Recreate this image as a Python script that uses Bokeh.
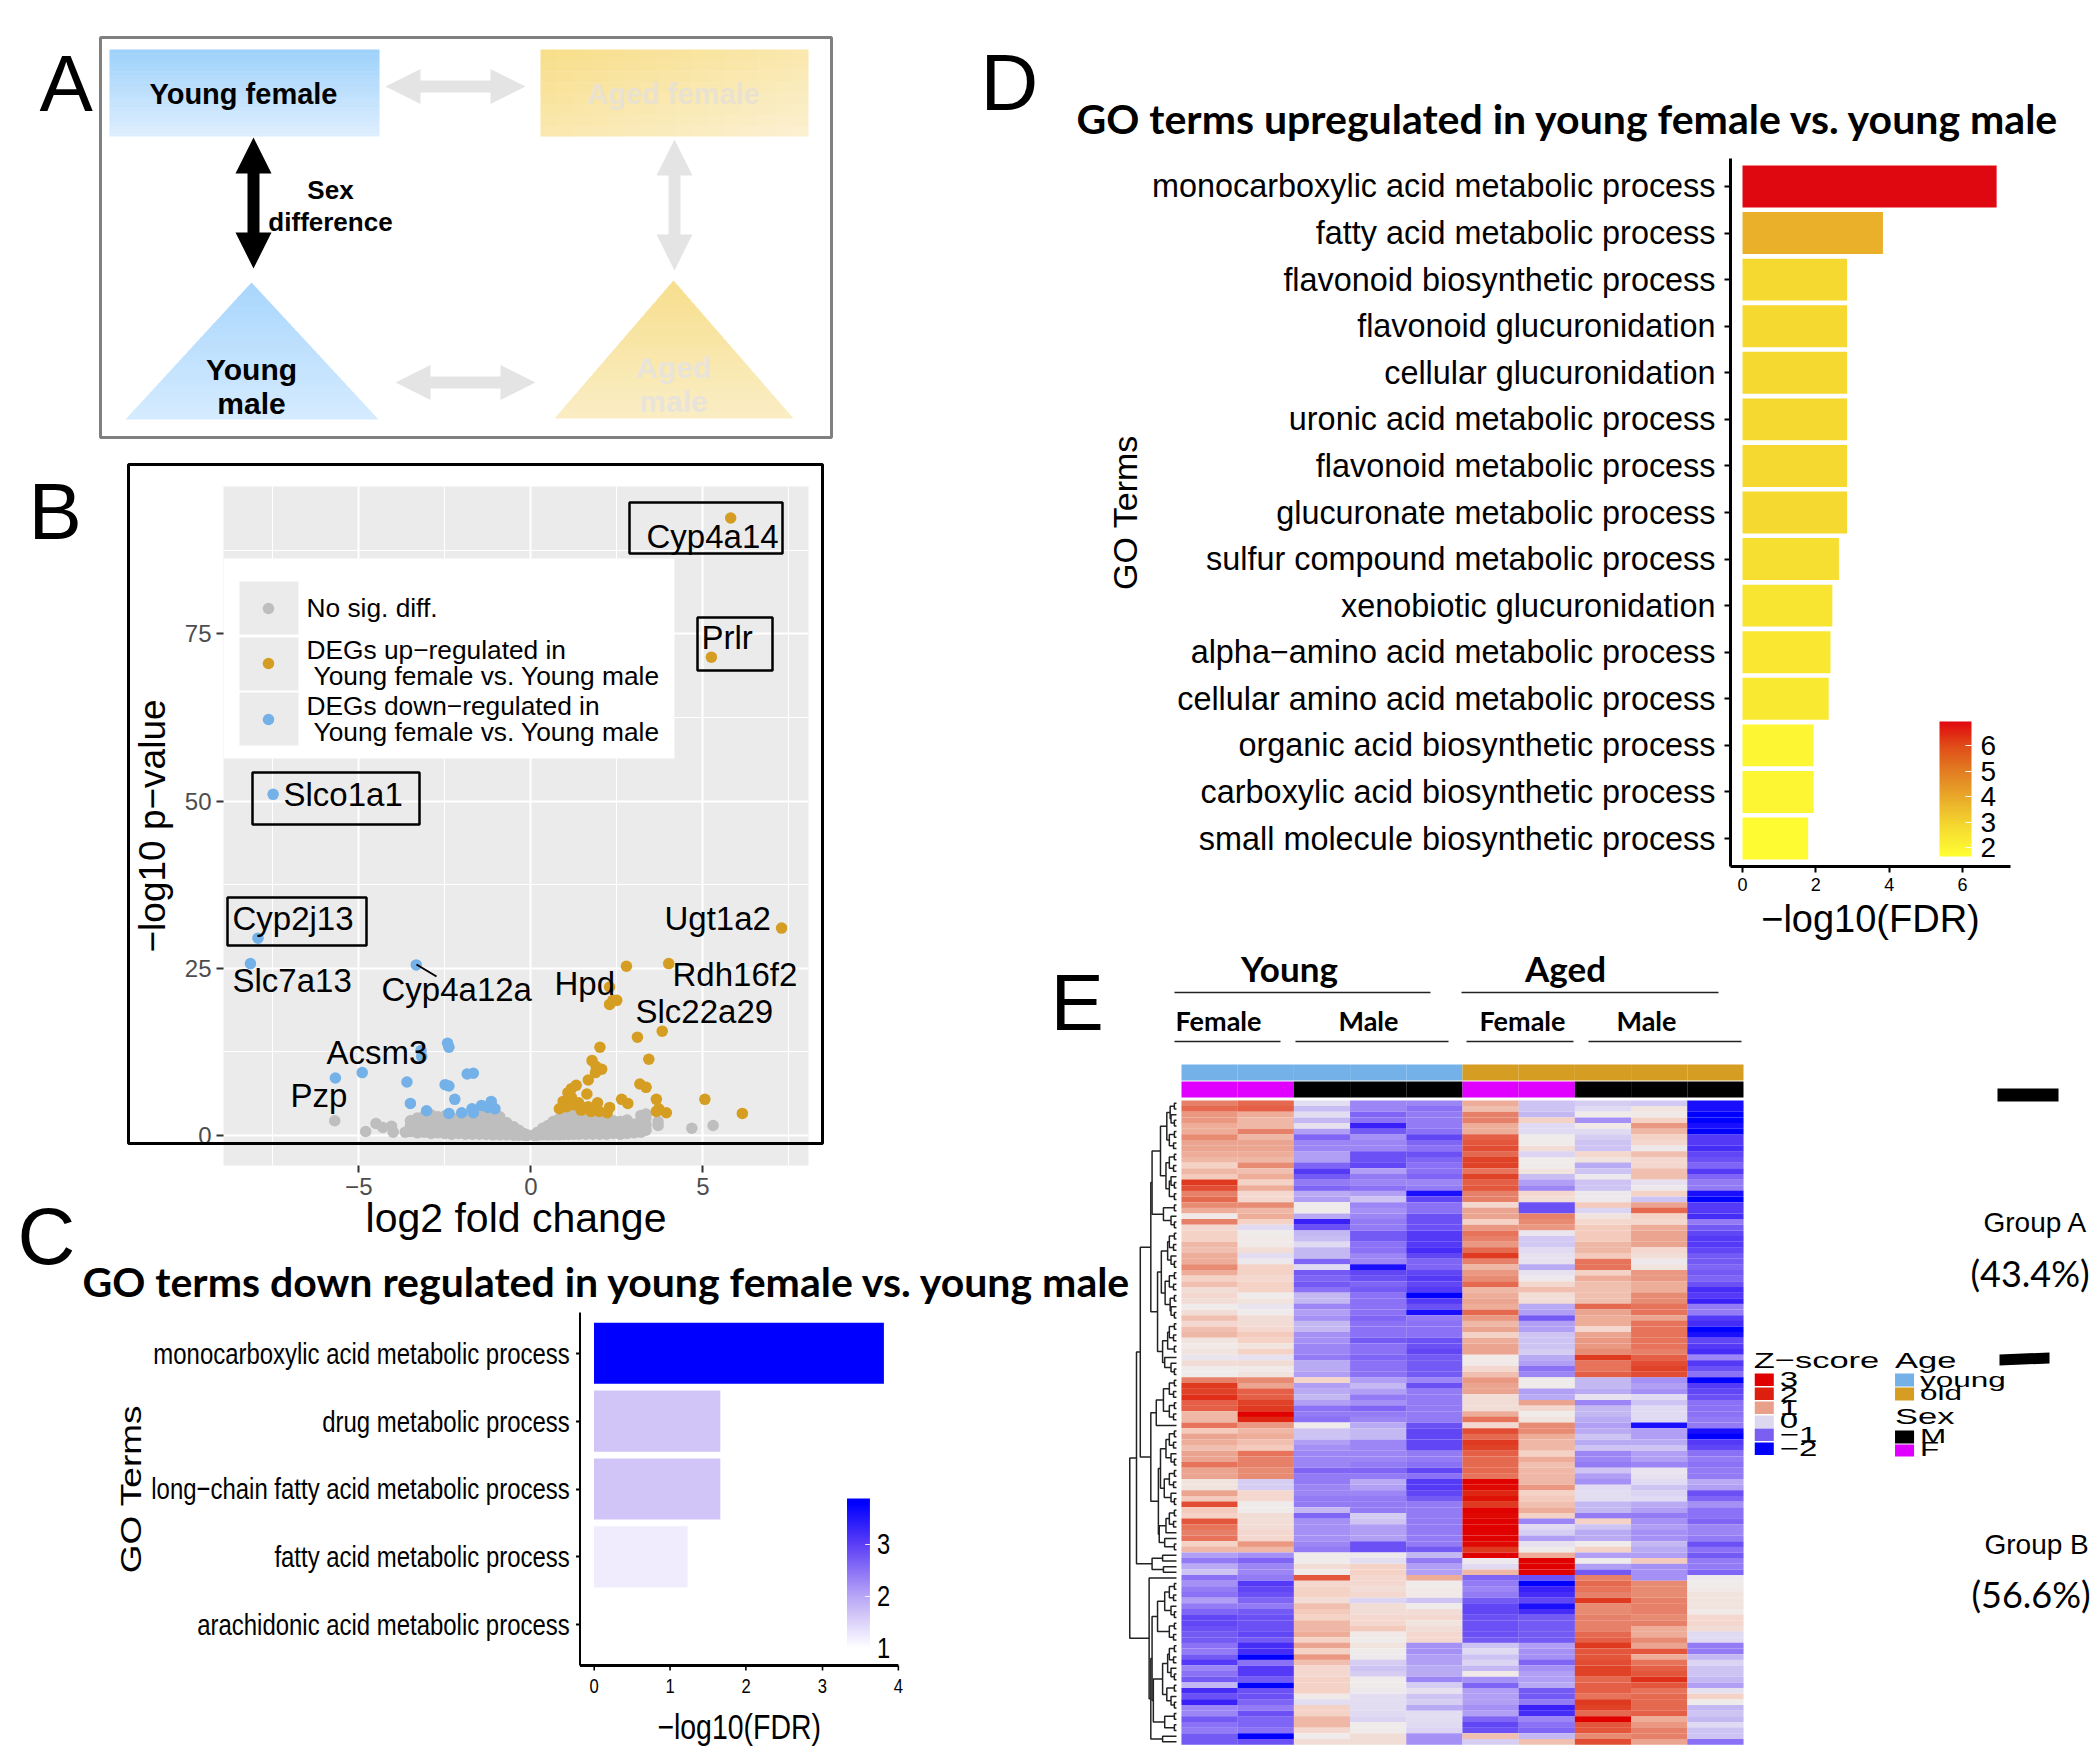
from bokeh.embed import file_html
from bokeh.resources import INLINE
from bokeh.plotting import figure
from bokeh.models import (Range1d, FactorRange, FixedTicker, LinearColorMapper, ColorBar, Column, ColumnDataSource)
from bokeh.core.properties import value
from bokeh.transform import transform

# ---------------- data -----------------
up_terms = ["monocarboxylic acid metabolic process", "fatty acid metabolic process", "flavonoid biosynthetic process",
            "flavonoid glucuronidation", "cellular glucuronidation", "uronic acid metabolic process",
            "flavonoid metabolic process", "glucuronate metabolic process", "sulfur compound metabolic process",
            "xenobiotic glucuronidation", "alpha\u2212amino acid metabolic process", "cellular amino acid metabolic process",
            "organic acid biosynthetic process", "carboxylic acid biosynthetic process", "small molecule biosynthetic process"]
up_values = [6.93, 3.83, 2.85, 2.85, 2.85, 2.85, 2.85, 2.85, 2.63, 2.45, 2.4, 2.35, 1.94, 1.94, 1.79]

down_terms = ["monocarboxylic acid metabolic process", "drug metabolic process", "long\u2212chain fatty acid metabolic process",
              "fatty acid metabolic process", "arachidonic acid metabolic process"]
down_values = [3.81, 1.66, 1.66, 1.23, 1.0]

up_x = [5.81, 5.25, 7.29, 4.01, 2.78, 2.29, 2.5, 2.39, 2.29, 3.82, 3.1, 2.01, 3.43, 1.78, 1.9, 2.06, 1.88, 1.67, 3.17, 3.35,
        1.32, 1.18, 1.08, 1.63, 2.64, 2.82, 3.65, 5.06, 6.15, 3.72, 3.65, 3.94, 2.29, 1.94, 1.99, 2.22, 0.94, 1.18, 1.39,
        1.67, 0.83, 1.04, 1.46, 1.75, 1.25, 1.5]
up_y = [92.3, 71.5, 31.0, 25.7, 25.3, 22.2, 20.2, 20.2, 19.6, 15.6, 14.7, 13.2, 11.4, 11.2, 10.3, 9.9, 9.4, 8.3, 7.7, 7.2,
        7.5, 7.0, 6.4, 6.2, 5.4, 4.8, 5.4, 5.4, 3.3, 4.0, 3.6, 3.4, 4.2, 4.9, 3.6, 3.4, 5.1, 5.7, 4.9,
        4.3, 4.0, 4.3, 3.8, 3.6, 4.6, 4.2]
down_x = [-7.49, -7.93, -8.15, -3.33, -2.42, -2.38, -3.19, -3.17, -5.68, -4.9, -3.6, -1.85, -1.67, -2.49, -2.38, -2.21, -3.5,
          -3.03, -2.38, -2.01, -1.71, -1.43, -1.15, -1.04, -1.67, -1.25]
down_y = [51.0, 29.5, 25.7, 25.5, 13.8, 13.2, 12.7, 11.8, 8.6, 9.4, 8.0, 9.2, 9.3, 7.6, 7.4, 5.4, 4.8,
          3.7, 3.3, 3.4, 4.0, 4.5, 5.1, 4.0, 3.4, 4.2]
grey_x_levels = [-3.5, -3.3, -3.1, -2.9, -2.7, -2.5, -2.3, -2.1, -1.9, -1.7, -1.5, -1.3, -1.1, -0.9, -0.7, -0.5, -0.35, -0.2, -0.1,
                 0.1, 0.2, 0.35, 0.5, 0.65, 0.8, 0.95, 1.1, 1.25, 1.4, 1.6, 1.8, 2.0, 2.2, 2.4, 2.6, 2.8, 3.0, 3.2, 3.35, 3.7]
grey_y_levels = [[0.6, 1.4, 2.2], [0.4, 1.1, 1.9, 2.6], [0.5, 1.3, 2.1, 2.9], [0.3, 1.0, 1.7, 2.5, 3.1], [0.4, 1.2, 2.0, 2.8],
                 [0.3, 0.9, 1.6, 2.4, 2.9], [0.2, 0.8, 1.4, 2.1, 2.7], [0.3, 1.0, 1.8, 2.5], [0.2, 0.7, 1.3, 2.0, 2.7],
                 [0.2, 0.8, 1.5, 2.2, 3.0], [0.2, 0.6, 1.2, 1.9, 2.6, 3.2], [0.15, 0.6, 1.1, 1.8, 2.5, 3.2],
                 [0.1, 0.5, 1.0, 1.6, 2.3, 3.0], [0.1, 0.4, 0.9, 1.5, 2.2, 2.8], [0.1, 0.4, 0.8, 1.3, 1.9],
                 [0.05, 0.3, 0.6, 1.0, 1.3], [0.05, 0.3, 0.6, 0.8], [0.03, 0.15, 0.3], [0.02, 0.08],
                 [0.02, 0.1], [0.05, 0.25, 0.5], [0.1, 0.4, 0.8, 1.1], [0.1, 0.5, 1.0, 1.5], [0.1, 0.5, 1.1, 1.7, 2.1],
                 [0.1, 0.6, 1.2, 1.8, 2.4], [0.15, 0.7, 1.4, 2.1, 2.8], [0.15, 0.7, 1.4, 2.2, 3.0], [0.2, 0.8, 1.5, 2.3, 3.3],
                 [0.2, 0.8, 1.6, 2.4, 3.1], [0.2, 0.8, 1.5, 2.2, 2.9], [0.2, 0.7, 1.3, 2.0, 2.7], [0.2, 0.7, 1.3, 1.9, 2.5],
                 [0.2, 0.6, 1.2, 1.9], [0.3, 0.9, 1.5, 2.2], [0.2, 0.8, 1.4, 2.1], [0.3, 0.9, 1.5, 2.3], [0.4, 1.1, 1.7],
                 [0.5, 1.2, 2.2, 3.0], [0.8, 1.6, 2.6, 3.2], [1.5, 2.1]]
grey_out_x = [-5.7, -4.8, -4.5, -4.3, -4.05, -4.0, -3.65, 4.68, 5.3, 3.05]
grey_out_y = [2.2, 0.6, 1.8, 1.2, 1.4, 0.5, 0.5, 1.1, 1.5, 1.2]

gene_names = ["Cyp4a14", "Prlr", "Slco1a1", "Cyp2j13", "Ugt1a2", "Slc7a13", "Rdh16f2", "Cyp4a12a", "Hpd", "Slc22a29", "Acsm3", "Pzp"]

age_groups = ["young"] * 5 + ["old"] * 5
sex_groups = ["F", "F", "M", "M", "M", "F", "F", "M", "M", "M"]

heat_rows = [
 [1.3,1.5,-.15,-.9,-.9,.9,-.4,-.3,-.35,-1.9],[1.5,1.6,-.45,-.9,-1.1,.7,-.4,-.2,.2,-1.9],[1.1,.9,-.15,-1.2,-1.0,1.3,-.5,.05,.1,-2],
 [1.1,.8,-.5,-1.1,-1,1.3,.5,-.8,.5,-2],[.9,.8,-.1,-1.8,-1,.9,-.2,.1,1.1,-1.9],[.9,1.3,-.7,-1.3,-1.1,.9,-.2,-.2,.8,-2],
 [1.2,.8,-1.2,-.8,-1.5,1.6,.05,-.3,.5,-1.6],[1.0,1.0,-.9,-.9,-1.2,1.7,.05,-.4,.4,-1.6],[1.0,1.0,-.9,-.9,-1.1,1.8,.3,-.4,.0,-1.7],
 [.9,.9,-.7,-1.4,-1.4,1.5,-.25,.4,.7,-1.5],[.8,.8,-.7,-1.4,-1.2,1.9,.05,.2,.4,-1.4],[.5,1.2,-1.2,-1.5,-1.1,1.9,.05,-.6,.4,-1.2],
 [.8,.7,-1.6,-.7,-1.1,1.4,.2,-.4,.7,-1.6],[.6,.9,-1.3,-1,-1.2,1.9,-.45,0,.7,-1.2],[2.0,.5,-1.0,-.9,-.9,1.6,-.7,-.4,-.1,-1.0],
 [1.8,.9,-1.2,-1.1,-1.0,1.7,-.9,-.4,.0,-1.0],[1.3,.4,-.6,-.7,-1.9,1.3,.4,0,.5,-1.9],[1.5,.4,-.7,-.4,-1.5,1.3,.3,0,-.4,-2],
 [1.2,1.2,.05,-.9,-1.1,.4,-1.4,.6,1,-1.6],[.9,.8,.05,-.8,-1.1,1.0,-1.4,-.25,1.5,-1.6],[.1,.9,-.6,-.9,-1.4,1.0,1.3,.2,.5,-1.7],
 [1.3,.5,-1.8,-1.0,-1.4,.5,1.2,.4,.4,-1.0],[.4,-.2,-1.4,-1.0,-1.4,1.1,1.1,.6,.9,-1.3],[.5,.05,-.5,-1.3,-1.6,1.4,-.05,.6,1.0,-1.5],
 [.5,.1,-.45,-1.3,-1.6,1.3,-.35,.6,1.0,-1.6],[.8,.1,-.2,-1.1,-1.6,1.1,-.35,.8,1.0,-1.6],[.7,.3,-.5,-1.1,-1.7,1.5,-.2,.8,.4,-1.5],
 [.9,-.15,-.5,-.9,-1.5,2.0,-.1,.6,.3,-1.3],[.9,.0,-1.2,-.9,-1.2,1.3,-.1,1.4,.0,-1.3],[1.2,.5,-.2,-1.9,-1.2,.8,-.6,1.4,.2,-1.2],
 [.9,.5,-1.3,-1.5,-1.5,1.1,-.1,.5,1.1,-1.3],[.5,.4,-1.2,-1.4,-1.6,1.2,.0,.9,1.1,-1.2],[.7,.5,-1.3,-1.2,-1.5,1.5,.4,.7,.9,-1.4],
 [.3,.5,-1.1,-1.3,-1.6,.8,.7,.7,.9,-1.7],[.4,.05,-.5,-1.1,-2,.9,.3,.7,1.2,-1.6],[.3,.2,-.5,-1.1,-1.6,1.0,.3,.7,1.2,-1.8],
 [.05,-.05,-.9,-1.1,-1.4,.9,-.6,1.5,1.4,-1.0],[.3,.05,-.7,-1.1,-1.9,1.5,-.7,1.0,1.4,-1.0],[.7,.3,-.8,-1.2,-1.0,1.1,-1.3,.9,1.0,-1.6],
 [.4,.3,-.5,-1.1,-1.1,.8,-.7,.9,1.4,-1.7],[.7,.4,-.5,-1.1,-1.1,1.0,-.7,.4,1.4,-2],[.8,.6,-.8,-1.1,-1.1,.5,-.4,1.0,1.4,-1.9],
 [.2,.5,-.8,-1.3,-1.4,.9,-.4,1.1,1.4,-1.5],[.1,.2,-.9,-1.1,-1.4,1.0,-.4,1.1,1.4,-1.6],[.2,.5,-.9,-1.1,-1.5,1.0,-.3,1.2,1.3,-1.7],
 [-.05,-.1,-1.0,-1.2,-1.3,.1,-.6,2.0,1.6,-.9],[.3,.3,-.6,-1.1,-1.3,.1,-.7,1.4,1.8,-1.6],[.05,.1,-.6,-1.1,-1.3,.4,-1.1,1.4,1.9,-1.4],
 [.05,.2,-.7,-1.1,-1.3,.7,-.9,1.6,1.8,-1.1],[1.3,1.2,.45,-.7,-.9,1.1,.05,-.5,-.8,-2],[2.0,1.0,-.7,-.5,-1.4,1.0,.05,-.5,-.7,-1.6],
 [1.9,1.6,-.6,-.7,-1.0,1.0,-.7,-.6,-.8,-1.5],[2.1,1.6,-.5,-1.0,-1.0,.3,-.6,-.1,-.2,-1.4],[1.6,1.9,-.7,-.8,-1,.3,1.0,-.9,-.4,-1.1],
 [1.6,2.0,-1.1,-1.2,-1,.3,.4,-.5,-.2,-1.1],[.8,2.6,-1.0,-1.0,-1,.9,.05,-.5,-.2,-1.1],[.8,2.2,-1.1,-.9,-1.0,1.4,.2,-.6,-.2,-1.0],
 [1.4,1.1,.05,-.6,-1.4,.4,1.2,-.7,-1.9,-1.0],[.6,.8,-.4,-.5,-1.5,1.8,1.2,-.6,-.7,-1.9],[1.0,.9,-.4,-.5,-1.5,1.5,.9,-.4,-.7,-2],
 [.9,.7,-.7,-.9,-1.5,2.0,.8,-.6,-.6,-1.6],[.7,.6,-.8,-.9,-1.5,1.9,.8,-.4,-.4,-1.5],[1.0,1.4,-.9,-.9,-1.0,1.6,.5,-.9,-.7,-1.1],
 [1.0,1.3,-.9,-.9,-1.0,1.5,.9,-.9,-.7,-1.0],[1.4,1.3,-.9,-1.0,-1.1,1.5,.7,-1.0,-.9,-1.1],[1.0,1.2,-1.2,-1.2,-1.5,1.5,.8,-.4,-.05,-1.0],
 [1.0,1.2,-1.0,-1.0,-1.1,1.4,.8,-.7,-.1,-1.0],[.2,-.3,-1.0,-.6,-1.6,2.6,.8,-.8,-.2,-.6],[.2,-.3,-.9,-.7,-1.6,2.5,1.1,-.2,-.4,-.7],
 [1.0,.4,-.9,-.9,-1.5,2.2,.5,-.15,-.25,-1.4],[.6,.4,-1.0,-1.0,-1.3,2.4,.6,-.15,-.2,-1.2],[1.8,.05,-1.0,-1.0,-1.0,2.0,.7,-.5,-.6,-.8],
 [.6,.05,-.5,-1.0,-1.0,2.6,.9,-.5,-.7,-1.1],[.5,.3,-1.2,-.3,-1.0,2.5,.5,-1.0,-1.0,-1.1],[1.7,.3,-.8,-.4,-1.0,2.6,-.9,.5,-.8,-1.2],
 [1.4,.3,-.8,-.7,-1,2.6,-.2,-.4,-.7,-.9],[1.3,.4,-.8,-.7,-1.0,2.6,-.3,-.6,-.8,-.9],[1.4,.4,-.8,-.7,-1.0,2.6,-.7,-.6,-.8,-1.0],
 [.5,1.1,-.9,-1.4,-1.0,2.5,-.1,.05,-.5,-1.4],[.8,.8,-1.0,-1.4,-1.3,2.0,.05,.5,-.6,-1.1],[-.7,-.8,.05,.0,-.5,2.6,.9,-.7,-.7,-1.3],
 [-1.0,-1.2,.05,-.15,-1.0,.0,2.6,.05,.6,-1.0],[-.6,-.9,.3,.5,-.7,-.2,2.6,-.7,-.8,-1.0],[-.4,-.9,.1,.5,-.7,.8,2.6,-1.3,-.8,-1.2],
 [-1.1,-1.0,1.7,.4,.9,-1.2,-1.4,1.3,-.8,.0],[-.8,-1.6,.4,.4,.05,-1.0,-2,1.5,1.2,.05],[-1.0,-1.5,.5,.3,.1,-.9,-1.8,1.4,1.2,.1],
 [-1.1,-1.4,.5,.4,.1,-1.0,-1.7,1.3,1.2,.2],[-.7,-1.2,.3,-.25,-.4,-1.3,-1.5,2.0,1.3,.2],[-1.0,-1.0,.7,.3,.05,-1.5,-1.9,1.2,1.3,.2],
 [-1.2,-1.3,.6,.3,.3,-1.5,-1.7,1.2,1.3,.1],[-1.5,-1.4,.5,.4,.4,-1.4,-1.3,1.3,1.2,.4],[-1.5,-1.4,.8,.4,.2,-1.4,-1.3,1.3,1.3,.4],
 [-1.4,-1.4,.8,.6,.3,-1.4,-1.3,1.3,.9,.3],[-1.3,-1.5,.9,.1,.4,-1.4,-1.3,1.5,.9,-.2],[-1.3,-1.3,.5,.05,.4,-1.3,-1.3,1.6,1.2,-.2],
 [-1.1,-1.7,1.0,.2,-.8,-.4,-.7,2.0,1.0,-1.0],[-1.0,-1.7,.5,.05,-.8,-.2,-.8,1.7,1.7,-1.0],[-1.3,-2,1.1,.0,-.7,-.4,-.8,1.7,.9,-.5],
 [-1.6,-1.1,.7,-.3,-.7,-.25,-1.2,1.8,1.4,-.25],[-.9,-1.6,.4,-.4,-.6,-.5,-.8,1.9,1.6,-.4],[-1.1,-1.6,.4,-.3,-.6,.1,-.7,1.9,1.7,-.4],
 [-1.3,-1.3,.5,.05,-.9,-.8,-.7,1.5,2.1,-.5],[-.5,-2,.5,.05,-.3,-1.2,-.6,1.6,1.7,-.7],[-1.7,-1.4,.5,.0,-.1,-.7,-1.3,1.6,1.4,-.1],
 [-1.4,-1.4,.1,-.15,-.4,-.7,-1.3,1.4,1.5,.5],[-1.8,-1.2,-.15,-.15,-.3,-.7,-1.0,2.0,1.5,.05],[-.9,-1.0,.5,-.15,-.6,-.8,-1.8,1.9,1.5,-.5],
 [-.9,-1.4,.5,-.2,-.15,-.7,-1.7,1.5,1.6,-.4],[-1.3,-1.2,.8,-.25,-.15,-1.2,-.9,2.6,.9,-.5],[-1.1,-1.2,.8,.05,-.2,-1.5,-1.1,1.7,1.1,-.2],
 [-1.0,-1.1,.4,.05,-.25,-1.4,-1.2,1.7,1.3,-.4],[-1.3,-2,.05,.3,-.8,.7,-.5,1.2,1.3,-.4],[-1.3,-1.4,.3,.3,-.8,-.3,.7,1.8,1.0,-1.1],
]

# dendrogram: each node is [merge position, child, child]; 0 is a leaf
P = [128, 0, 0]
T3 = [120, 0, P]
Q = [116, P, [126, 0, 0]]
dendrogram = [22,
    [38,
        [47,
            [72,
                [75, [95, [110, [118, P, T3], Q], [108, Q, [116, T3, P]]], [102, P, T3]],
                [88, [97, [112, Q, T3], [106, Q, [118, P, T3]]], [100, [112, Q, P], [105, 0, T3]]]],
            [72,
                [85, [102, Q, Q], 0],
                [90, [95, [108, Q, T3], [104, Q, T3]], [92, [108, Q, 0], [105, 0, P]]]]],
        [75, [100, 0, 0], [102, 0, 0]]],
    [68, 0, [72, [75, [88, [105, Q, T3], Q], [78, [100, [112, Q, T3], [110, P, T3]], [105, P, P]]], [100, 0, 0]]]]

# ---------------- helpers -----------------
LIB = "Liberation Sans"
BOLD_T = "Lato"
BASE = 0.36  # text glyphs sit this fraction of their size below the requested baseline

def hexrgb(c):
    return tuple(int(c[i:i + 2], 16) for i in (1, 3, 5))

def ramp(stops, n=256):
    out = []
    for i in range(n):
        f = i / (n - 1)
        for (a, ca), (b, cb) in zip(stops, stops[1:]):
            if a <= f <= b:
                t = (f - a) / (b - a) if b > a else 0
                ra, rb = hexrgb(ca), hexrgb(cb)
                out.append("#%02x%02x%02x" % tuple(round(u + (v - u) * t) for u, v in zip(ra, rb)))
                break
    return out

def panel(l, t, r, b, x_range, y_range, ml=20, mr=20, mt=20, mb=20, sx=1.0):
    styles = {"position": "absolute", "left": f"{l - ml * sx}px", "top": f"{t - mt}px"}
    total = round((r - l) / sx) + ml + mr
    if sx != 1.0:
        # Bokeh measures the transformed box, so the declared width is divided by the scale once more
        styles["transform"] = f"scaleX({sx})"
        styles["transform-origin"] = "0 0"
        total = round(total / sx)
    return figure(width=total, height=b - t + mt + mb, x_range=x_range, y_range=y_range,
                  min_border_left=ml, min_border_right=mr, min_border_top=mt, min_border_bottom=mb,
                  toolbar_location=None, output_backend="svg", background_fill_alpha=0, border_fill_alpha=0,
                  outline_line_color=None, frame_align=False, styles=styles)

def txt(p, x, y, s, size, font=LIB, style="normal", color="black", align="left"):
    p.text(x=[x], y=[y - BASE * size], text=[s], text_font=value(font), text_font_size=f"{size}px", text_font_style=style,
           text_color=color, text_align=align, text_baseline="alphabetic")

figs = []

# ---------------- panel B volcano -----------------
vx = lambda px: (px - 530.3) / 34.4
vy = lambda py: (1135 - py) / 6.69
def vtxt(px, py, s, size):
    b.text(x=[vx(px)], y=[vy(py - BASE * size)], text=[s], text_font=value(LIB), text_font_size=f"{size}px",
           text_color="black", text_baseline="alphabetic")

b = panel(223, 486, 808, 1165, Range1d(vx(223), vx(808)), Range1d(vy(1165), vy(486)), ml=110, mr=10, mt=10, mb=90)
b.background_fill_color = "#EBEBEB"
b.background_fill_alpha = 1
xt = FixedTicker(ticks=[-5, 0, 5], minor_ticks=[-7.5, -2.5, 2.5, 7.5])
yt = FixedTicker(ticks=[0, 25, 50, 75], minor_ticks=[12.5, 37.5, 62.5, 87.5])
b.xaxis.ticker = xt
b.yaxis.ticker = yt
b.xgrid.ticker = xt
b.ygrid.ticker = yt
for g in (b.xgrid, b.ygrid):
    g.grid_line_color = "white"
    g.grid_line_width = 2
    g.minor_grid_line_color = "white"
    g.minor_grid_line_width = 1
for ax in (b.xaxis, b.yaxis):
    ax.axis_line_color = None
    ax.minor_tick_line_color = None
    ax.major_tick_line_color = "#333333"
    ax.major_tick_line_width = 2
    ax.major_tick_out = 7
    ax.major_tick_in = 0
    ax.major_label_text_font = LIB
    ax.major_label_text_font_size = "24px"
    ax.major_label_text_color = "#4D4D4D"
    ax.major_label_standoff = 5
    ax.axis_label_text_font = LIB
    ax.axis_label_text_font_style = "normal"
    ax.axis_label_text_color = "black"
b.xaxis.axis_label = "log2 fold change"
b.xaxis.axis_label_text_font_size = "41px"
b.xaxis.axis_label_standoff = -3
b.yaxis.axis_label = "\u2212log10 p\u2212value"
b.yaxis.axis_label_text_font_size = "37px"
b.yaxis.axis_label_standoff = 9

grey_x = [x for x, ys in zip(grey_x_levels, grey_y_levels) for _ in ys] + grey_out_x
grey_y = [y for ys in grey_y_levels for y in ys] + grey_out_y
b.scatter(grey_x, grey_y, size=11.5, color="#BEBEBE", line_color=None)
b.scatter(down_x, down_y, size=11.5, color="#74B1E8", line_color=None)
b.scatter(up_x, up_y, size=11.5, color="#D59E22", line_color=None)

# legend
b.quad(left=[vx(223)], right=[vx(674)], top=[vy(558)], bottom=[vy(758)], color="white", line_color=None)
b.quad(left=[vx(239)] * 3, right=[vx(298)] * 3, top=[vy(581), vy(637), vy(692)], bottom=[vy(634), vy(690), vy(745)],
       color="#EBEBEB", line_color=None)
b.scatter([vx(268)] * 3, [vy(608), vy(663), vy(719)], size=11.5, color=["#BEBEBE", "#D59E22", "#74B1E8"], line_color=None)
vtxt(306, 617, "No sig. diff.", 26.3)
vtxt(306, 659, "DEGs up\u2212regulated in", 26.3)
vtxt(313, 685, "Young female vs. Young male", 26.3)
vtxt(306, 715, "DEGs down\u2212regulated in", 26.3)
vtxt(313, 741, "Young female vs. Young male", 26.3)

# gene labels
gene_px = [(646, 548), (701, 649), (283, 806), (232, 930), (664, 930), (232, 992), (672, 986), (381, 1001), (554, 995),
           (635, 1023), (326, 1064), (290, 1107)]
for name, (gx, gy) in zip(gene_names, gene_px):
    vtxt(gx, gy, name, 33)
for (l, r, t, bt) in [(629, 782, 502, 553), (697, 772, 617, 670), (252, 419, 772, 824), (227, 366, 897, 945)]:
    b.quad(left=[vx(l)], right=[vx(r)], top=[vy(t)], bottom=[vy(bt)], fill_color=None, line_color="black", line_width=2.5)
b.line([vx(416), vx(436)], [vy(964), vy(976)], line_color="black", line_width=2)
figs.append(b)

# ---------------- panel C bars (horizontally squeezed, as in the reference) -----------------
SX_C = 0.79
c_map = LinearColorMapper(palette=ramp([(0, "#FFFFFF"), (.08, "#F0ECFE"), (.23, "#D0C4F7"), (.347, "#B8A6F7"), (.694, "#5C3EF5"),
                                        (.97, "#0000FF"), (1, "#0000FF")]), low=1.0, high=3.88)
c = panel(580, 1312, 898, 1665, Range1d(-14 / 76, 304 / 76), FactorRange(factors=down_terms[::-1], range_padding=0.1, range_padding_units="absolute"),
          ml=640, mr=14, mt=5, mb=85, sx=SX_C)
c.hbar(y="y", left=0, right="v", height=0.9, fill_color=transform("v", c_map), line_color=None,
       source=ColumnDataSource(dict(y=down_terms, v=down_values)))
c.grid.visible = False
c.xaxis.ticker = FixedTicker(ticks=[0, 1, 2, 3, 4])
c.xaxis.major_label_text_font = LIB
c.xaxis.major_label_text_font_size = "21px"
c.xaxis.major_label_standoff = 9
c.xaxis.axis_label = "\u2212log10(FDR)"
c.xaxis.axis_label_text_font = LIB
c.xaxis.axis_label_text_font_size = "36px"
c.xaxis.axis_label_text_font_style = "normal"
c.xaxis.axis_label_text_color = "black"
c.xaxis.axis_label_standoff = 10
c.yaxis.axis_label = "GO Terms"
c.yaxis.axis_label_text_font = LIB
c.yaxis.axis_label_text_font_size = "37px"
c.yaxis.axis_label_text_font_style = "normal"
c.yaxis.axis_label_text_color = "black"
c.yaxis.axis_label_standoff = 2
c.yaxis.major_label_text_font = LIB
c.yaxis.major_label_text_font_size = "30.3px"
c.yaxis.major_label_standoff = 8
c.xaxis.axis_line_width = 3
c.yaxis.axis_line_width = 2.5
for ax in (c.xaxis, c.yaxis):
    ax.axis_line_color = "black"
    ax.major_tick_line_color = "black"
    ax.major_tick_line_width = 2
    ax.major_tick_in = 0
    ax.major_tick_out = 5
    ax.minor_tick_line_color = None
    ax.major_label_text_color = "black"
c_bar = ColorBar(color_mapper=c_map, location=(round((847 - 580) / SX_C), 17), width=round(23 / SX_C), height=150, padding=0, margin=0,
                 ticker=FixedTicker(ticks=[1, 2, 3]), background_fill_alpha=0, border_line_color=None, bar_line_color=None,
                 major_tick_line_color="white", major_tick_in=6, major_label_text_font=LIB, major_label_text_font_size="30px",
                 major_label_text_color="black", label_standoff=9)
c.add_layout(c_bar, "center")
figs.append(c)

# ---------------- panel D bars -----------------
d_map = LinearColorMapper(palette=ramp([(0, "#FFFF33"), (.227, "#F5D830"), (.41, "#EAB02A"), (.63, "#E27D22"), (.82, "#E04C18"),
                                        (1, "#E00810")]), low=1.65, high=6.94)
d = panel(1730, 158, 2010, 866, Range1d(-12 / 36.67, 268 / 36.67), FactorRange(factors=up_terms[::-1], range_padding=0.1, range_padding_units="absolute"),
          ml=660, mr=10, mt=5, mb=80)
d.hbar(y="y", left=0, right="v", height=0.9, fill_color=transform("v", d_map), line_color=None,
       source=ColumnDataSource(dict(y=up_terms, v=up_values)))
d.grid.visible = False
d.xaxis.ticker = FixedTicker(ticks=[0, 2, 4, 6])
d.xaxis.major_label_text_font = LIB
d.xaxis.major_label_text_font_size = "18px"
d.xaxis.axis_label = "\u2212log10(FDR)"
d.xaxis.axis_label_text_font = LIB
d.xaxis.axis_label_text_font_size = "38px"
d.xaxis.axis_label_text_font_style = "normal"
d.xaxis.axis_label_text_color = "black"
d.xaxis.axis_label_standoff = 4
d.yaxis.axis_label = "GO Terms"
d.yaxis.axis_label_text_font = LIB
d.yaxis.axis_label_text_font_size = "34px"
d.yaxis.axis_label_text_font_style = "normal"
d.yaxis.axis_label_text_color = "black"
d.yaxis.axis_label_standoff = 5
d.yaxis.major_label_text_font = LIB
d.yaxis.major_label_text_font_size = "32.4px"
d.yaxis.major_label_standoff = 9
d.xaxis.axis_line_width = 3
d.yaxis.axis_line_width = 3
for ax in (d.xaxis, d.yaxis):
    ax.axis_line_color = "black"
    ax.major_tick_line_color = "black"
    ax.major_tick_line_width = 2
    ax.major_tick_in = 0
    ax.major_tick_out = 6
    ax.minor_tick_line_color = None
    ax.major_label_text_color = "black"
d_bar = ColorBar(color_mapper=d_map, location=(209, 10), width=32, height=135, padding=0, margin=0,
                 ticker=FixedTicker(ticks=[2, 3, 4, 5, 6]), background_fill_alpha=0, border_line_color=None, bar_line_color=None,
                 major_tick_line_color="white", major_tick_in=6, major_label_text_font=LIB, major_label_text_font_size="28px",
                 major_label_text_color="black", label_standoff=9)
d.add_layout(d_bar, "center")
figs.append(d)

# ---------------- panel E heatmap -----------------
hx = lambda px: (px - 1181) / 56.2
hy = lambda py: (py - 1100) / 5.65
e = panel(1125, 1060, 1745, 1748, Range1d(hx(1125), hx(1745)), Range1d(hy(1748), hy(1060)), ml=2, mr=2, mt=2, mb=2)
e.axis.visible = False
e.grid.visible = False
h_map = LinearColorMapper(palette=ramp([(0, "#0000FF"), (.043, "#3A20F8"), (.109, "#6248F5"), (.174, "#8066F5"), (.239, "#9C86F5"),
                                        (.326, "#C4B8F3"), (.391, "#E0DAF2"), (.446, "#EFEBEA"), (.543, "#F5D3C7"), (.652, "#EBA48E"),
                                        (.76, "#E5694F"), (.87, "#DF3A20"), (.957, "#DE1205"), (1, "#E00000")]),
                          low=-2, high=2.6)
hm_x, hm_y, hm_v = [], [], []
for ri, row in enumerate(heat_rows):
    for ci, v in enumerate(row):
        hm_x.append(ci + .5); hm_y.append(ri + .5); hm_v.append(v)
e.rect(x="x", y="y", width=1.002, height=1.02, fill_color=transform("v", h_map), line_color=None,
       source=ColumnDataSource(dict(x=hm_x, y=hm_y, v=hm_v)))
age_col = {"young": "#74B1E8", "old": "#D59E22"}
sex_col = {"F": "#E000FF", "M": "#000000"}
e.quad(left=[i for i in range(10)], right=[i + 1 for i in range(10)], top=[hy(1064)] * 10, bottom=[hy(1080)] * 10,
       color=[age_col[a] for a in age_groups], line_color=None)
e.quad(left=[i for i in range(10)], right=[i + 1 for i in range(10)], top=[hy(1081)] * 10, bottom=[hy(1097)] * 10,
       color=[sex_col[s] for s in sex_groups], line_color=None)

seg_x, seg_y = [], []
counter = [0]
dx3 = lambda zx: hx(1120 + .421 * zx)
LEAF_X = 133
def walk(node):
    if node == 0:
        r = counter[0] + .5
        counter[0] += 1
        return LEAF_X, r
    h, a, b_ = node
    xa, ya = walk(a)
    xb, yb = walk(b_)
    seg_x.append([dx3(xa), dx3(h), dx3(h), dx3(xb)])
    seg_y.append([ya, ya, yb, yb])
    return h, (ya + yb) / 2
walk(dendrogram)
e.multi_line(seg_x, seg_y, line_color="#222222", line_width=1.5)
figs.append(e)

# ---------------- heatmap legends (horizontally stretched, as in the reference) -----------------
g = panel(1750, 1345, 2012, 1470, Range1d(1750, 2012), Range1d(1470, 1345), ml=0, mr=0, mt=0, mb=0, sx=1.5)
g.axis.visible = False
g.grid.visible = False
z_cols = ["#E00000", "#DD1F10", "#E9A08A", "#DDD8F0", "#7B5FF0", "#0000FF"]
z_labels = ["3", "2", "1", "0", "\u22121", "\u22122"]
z_top = [1373, 1387, 1401, 1415, 1428, 1442]
z_base = [1387, 1402, 1415, 1428, 1442, 1456]
g.quad(left=[1754] * 6, right=[1773] * 6, top=z_top, bottom=[t + 12.5 for t in z_top], color=z_cols, line_color=None)
for s, y in zip(z_labels, z_base):
    txt(g, 1779, y, s, 22)
txt(g, 1753, 1368, "Z\u2212score", 23)
txt(g, 1894, 1368, "Age", 23)
g.quad(left=[1894] * 2, right=[1913] * 2, top=[1373, 1387], bottom=[1386, 1400], color=["#74B1E8", "#D59E22"], line_color=None)
txt(g, 1919, 1387, "young", 21)
txt(g, 1919, 1400, "old", 21)
txt(g, 1894, 1424, "Sex", 23)
g.quad(left=[1894] * 2, right=[1913] * 2, top=[1430, 1444], bottom=[1443, 1456], color=["#000000", "#E000FF"], line_color=None)
txt(g, 1919, 1443, "M", 21)
txt(g, 1919, 1456, "F", 21)
figs.append(g)

# ---------------- overlay: diagram A, letters, titles, annotations -----------------
o = panel(8, 8, 2092, 1742, Range1d(8, 2092), Range1d(1742, 8), ml=0, mr=0, mt=0, mb=0)
o.axis.visible = False
o.grid.visible = False

def mix(a, b_, t):
    ca, cb = hexrgb(a), hexrgb(b_)
    return "#%02x%02x%02x" % tuple(round(u + (v - u) * t) for u, v in zip(ca, cb))

def grad_rect(l, r, t, bt, top_left, bottom_right, nx=1, ny=24, diag=False):
    L, R, T, B, C = [], [], [], [], []
    for i in range(nx):
        for j in range(ny):
            L.append(l + (r - l) * i / nx)
            R.append(l + (r - l) * (i + 1) / nx + .6)
            T.append(t + (bt - t) * j / ny)
            B.append(t + (bt - t) * (j + 1) / ny + .6)
            f = (i / max(nx - 1, 1) + j / max(ny - 1, 1)) / 2 if diag else j / max(ny - 1, 1)
            C.append(mix(top_left, bottom_right, f))
    o.quad(left=L, right=[min(v, r) for v in R], top=T, bottom=[min(v, bt) for v in B], color=C, line_color=None)

def grad_tri(ax, ay, lx, rx, by, c1, c2, n=30):
    xs, ys, cs = [], [], []
    for j in range(n):
        t0, t1 = j / n, min((j + 1) / n + .01, 1)
        y0, y1 = ay + (by - ay) * t0, ay + (by - ay) * t1
        xs.append([ax + (lx - ax) * t0, ax + (rx - ax) * t0, ax + (rx - ax) * t1, ax + (lx - ax) * t1])
        ys.append([y0, y0, y1, y1])
        cs.append(mix(c1, c2, j / (n - 1)))
    o.patches(xs, ys, color=cs, line_color=None)

def arrow_h(x0, x1, y, color, hh=17.5, hl=35, sh=6):
    o.patch([x0, x0 + hl, x0 + hl, x1 - hl, x1 - hl, x1, x1 - hl, x1 - hl, x0 + hl, x0 + hl],
            [y, y - hh, y - sh, y - sh, y - hh, y, y + hh, y + sh, y + sh, y + hh], color=color, line_color=None)

def arrow_v(x, y0, y1, color, hw=18, hl=36, sw=6):
    o.patch([x, x + hw, x + sw, x + sw, x + hw, x, x - hw, x - sw, x - sw, x - hw],
            [y0, y0 + hl, y0 + hl, y1 - hl, y1 - hl, y1, y1 - hl, y1 - hl, y0 + hl, y0 + hl], color=color, line_color=None)

grad_rect(109, 379, 49, 136, "#9FD2FB", "#DDEEFE")
grad_rect(540, 808, 49, 136, "#F8DF8C", "#FBF0CF", nx=16, ny=8, diag=True)
grad_tri(251, 282, 125, 378, 419, "#A9D6FC", "#D5EBFF")
grad_tri(673, 280, 554, 793, 418, "#F7DF8E", "#FAEDC4")
o.quad(left=[100], right=[831], top=[37], bottom=[437], fill_color=None, line_color="#808080", line_width=3)
arrow_h(385, 525, 86, "#E4E4E4")
arrow_h(395, 535, 382, "#E4E4E4")
arrow_v(674, 139, 270, "#E4E4E4")
arrow_v(253, 137, 268, "black")
txt(o, 243, 104, "Young female", 29, style="bold", align="center")
txt(o, 673, 104, "Aged female", 29, style="bold", align="center", color="#E9E2D0")
txt(o, 330, 199, "Sex", 26, style="bold", align="center")
txt(o, 330, 231, "difference", 26, style="bold", align="center")
txt(o, 251, 380, "Young", 30, style="bold", align="center")
txt(o, 251, 414, "male", 30, style="bold", align="center")
txt(o, 673, 378, "Aged", 30, style="bold", align="center", color="#E9E4DA")
txt(o, 673, 412, "male", 30, style="bold", align="center", color="#E9E4DA")

# panel letters
txt(o, 39, 112, "A", 80)
txt(o, 28, 540, "B", 80)
txt(o, 17, 1265, "C", 80)
txt(o, 980, 111, "D", 80)
txt(o, 1050, 1031, "E", 80)

# panel B frame
o.quad(left=[128], right=[822], top=[464], bottom=[1143], fill_color=None, line_color="black", line_width=3)

# titles
txt(o, 82, 1296, "GO terms down regulated in young female vs. young male", 41, font=BOLD_T, style="bold")
txt(o, 1076, 133, "GO terms upregulated in young female vs. young male", 41, font=BOLD_T, style="bold")

# heatmap headers
txt(o, 1289, 980, "Young", 35, font=BOLD_T, style="bold", align="center")
txt(o, 1565, 980, "Aged", 35, font=BOLD_T, style="bold", align="center")
for cx, s in [(1218, "Female"), (1368, "Male"), (1522, "Female"), (1646, "Male")]:
    txt(o, cx, 1030, s, 27, font=BOLD_T, style="bold", align="center")
for l, r, y in [(1174, 1430, 992), (1461, 1718, 992), (1174, 1280, 1041), (1295, 1448, 1041), (1466, 1573, 1041), (1588, 1741, 1041)]:
    o.line([l, r], [y, y], line_color="#222222", line_width=1.5)

# group annotations
o.quad(left=[1997], right=[2058], top=[1088], bottom=[1101], color="black", line_color=None)
o.patch([1999, 2049, 2049, 1999], [1354, 1352, 1363, 1365], color="black", line_color=None)
txt(o, 1983, 1232, "Group A", 28)
txt(o, 1970, 1285, "(43.4%)", 36, font=BOLD_T)
txt(o, 1984, 1554, "Group B", 28)
txt(o, 1971, 1606, "(56.6%)", 36, font=BOLD_T)
figs.append(o)

root = Column(children=figs, width=2084, height=1734, sizing_mode="fixed", styles={"position": "relative"})
open("out.html", "w").write(file_html(root, INLINE))
